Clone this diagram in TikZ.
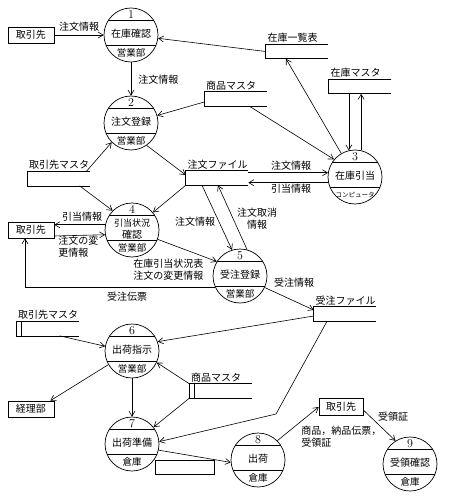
\documentclass[tikz,border=0pt]{standalone}
\usepackage{fontspec}
\newfontfamily\jp{Noto Sans CJK JP}
\usetikzlibrary{arrows.meta}

\tikzset{
  bubble/.style={draw, circle, minimum size=54pt, inner sep=0pt, line width=0.7pt,
    path picture={
      \draw ([yshift=15pt]path picture bounding box.west) -- ([yshift=15pt]path picture bounding box.east);
      \draw ([yshift=-10pt]path picture bounding box.west) -- ([yshift=-10pt]path picture bounding box.east);
    }},
  entity/.style={draw, minimum width=46pt, minimum height=16pt, inner sep=1pt, font=\jp},
  store/.style={minimum width=62pt, minimum height=14pt, inner sep=0pt},
  storelabel/.style={anchor=south west, inner sep=1.5pt, font=\jp},
  lbl/.style={font=\jp, inner sep=1pt},
}

\begin{document}
\begin{tikzpicture}[x=1pt,y=-1pt,line width=0.6pt,>={Straight Barb[length=5pt,width=6pt]}]
  \useasboundingbox (0,0) rectangle (448,497);
  % Procesos
  \foreach \n/\x/\y/\main/\dept in {
      1/131/35/在庫確認/営業部,
      2/131/123/注文登録/営業部,
      3/355/177/在庫引当/{\fontsize{6.5}{7}\selectfont コンピュータ},
      4/132/230/{\fontsize{9}{10}\selectfont 引当状況\\確認}/営業部,
      5/240/276/受注登録/営業部,
      6/132/351/出荷指示/営業部,
      7/132/444/出荷準備/倉庫,
      8/258/460/出荷/倉庫,
      9/410/464/受領確認/倉庫} {
    \node[bubble] (b\n) at (\x,\y) {};
    \node[inner sep=0pt, font=\fontsize{12}{12}\selectfont] (n\n) at ([yshift=20.5pt]b\n.center) {\n};
    \node[lbl, align=center] (m\n) at ([yshift=1pt]b\n.center) {\main};
    \node[lbl, font=\jp\fontsize{9.5}{10}\selectfont] (d\n) at ([yshift=-18pt]b\n.center) {\dept};
  }
  % Entidades externas
  \node[entity] (tori1) at (31,35) {取引先};
  \node[entity] (tori2) at (31,230) {取引先};
  \node[entity] (keiri) at (31,409) {経理部};
  \node[entity, minimum width=44pt, minimum height=17pt] (tori3) at (341,407) {取引先};
  % Almacenes de datos
  \node[store, label={[storelabel]north west:在庫一覧表}] (zlist) at (297,51.5) {};
  \node[store, label={[storelabel]north west:在庫マスタ}] (zmaster) at (360,86.5) {};
  \node[store, label={[storelabel]north west:商品マスタ}] (shohin1) at (235.5,99) {};
  \node[store, label={[storelabel]north west:取引先マスタ}] (tmaster1) at (58.5,178.5) {};
  \node[store, label={[storelabel]north west:注文ファイル}] (chumon) at (217,178) {};
  \node[store, label={[storelabel]north west:受注ファイル}] (juchu) at (345,314) {};
  \node[store, label={[storelabel]north west:取引先マスタ}] (tmaster2) at (47.5,328.5) {};
  \node[store, label={[storelabel]north west:商品マスタ}] (shohin2) at (220.5,391) {};
  \foreach \s in {zlist,zmaster,shohin1,tmaster1,chumon,juchu,tmaster2,shohin2}
    \draw (\s.north east) -- (\s.north west) -- (\s.south west) -- (\s.south east);
  \foreach \s in {tmaster2,shohin2}
    \draw ([xshift=5pt]\s.north west) -- ([xshift=5pt]\s.south west);
  % Recuadro negro
  \node[draw, line width=1.6pt, minimum width=59pt, minimum height=14pt, inner sep=0pt] (blank) at (185,467.5) {};
  % Flujos superiores
  \draw[->] (tori1) -- (b1);
  \node[lbl] (l1) at (79,27) {注文情報};
  \draw[->] (zlist.west) -- (b1);
  \draw[->] (b3) -- ([xshift=-11pt]zlist.south);
  \draw[->] (zmaster.south -| b3.103) -- (b3.103);
  \draw[->] (b3.77) -- (b3.77 |- zmaster.south);
  \draw[->] (b1) -- (b2);
  \node[lbl, anchor=west] (l2) at (137,80) {注文情報};
  \draw[->] ([xshift=14pt]shohin1.south) -- (b3.140);
  \draw[->] ([yshift=-3pt]shohin1.west) -- (b2);
  \draw[->] ([xshift=28pt]tmaster1.north) -- (b2.225);
  \draw[->] (b2.305) -- ([yshift=3pt]chumon.west);
  % Flujos centrales
  \draw[->] ([xshift=21pt]tmaster1.south) -- (b4.135);
  \draw[->] (chumon.south west) -- (b4.40);
  \draw[->] (chumon.east |- b3.171) -- (b3.171);
  \draw[->] (b3.192) -- (b3.192 -| chumon.east);
  \node[lbl] (l3) at (291,166) {注文情報};
  \node[lbl] (l4) at (291,189) {引当情報};
  \draw[->] ([xshift=-15pt]chumon.south) -- (b5.107);
  \node[lbl] (l5) at (195,222) {注文情報};
  \draw[->] (b5.75) -- ([xshift=1pt]chumon.south);
  \node[lbl, align=center] (l6) at (257,219) {注文取消\\情報};
  \draw[->] (b4.169) -- (b4.169 -| tori2.east);
  \node[lbl] (l7) at (82,217) {引当情報};
  \draw[->] ([yshift=-6pt]tori2.east) -- (b4.190);
  \node[lbl, align=left, anchor=north west] (l8) at (57,235) {注文の変\\更情報};
  \draw[->] (b4.340) -- (b5.148);
  \node[lbl, align=left, anchor=north west] (l9) at (132,258) {在庫引当状況表\\注文の変更情報};
  \draw[->] (b5.205) -| ([xshift=-6pt]tori2.south);
  \node[lbl] (l10) at (127,297) {受注伝票};
  \draw[->] (b5.335) -- ([yshift=4pt]juchu.west);
  \node[lbl] (l11) at (294,283) {受注情報};
  % Flujos inferiores
  \draw[->] ([yshift=-2pt]juchu.west) -- (b6.20);
  \draw[->] ([xshift=12pt]tmaster2.south) -- (b6.170);
  \draw[->] (b6.210) -- ([xshift=-4pt]keiri.north east);
  \draw[->] (b6) -- (b7);
  \draw[->] (shohin2.north west) -- (b6.335);
  \draw[->] (shohin2.south west) -- (b7.38);
  \coordinate (bend) at (276,414);
  \draw[->] ([xshift=-18pt]juchu.south) -- (bend) -- (b7.5);
  \draw[->] (b7.347) -- (b8.185);
  \draw[->] (b8.45) -- (tori3.west);
  \node[lbl, align=left, anchor=north west] (l12) at (300,425) {商品，納品伝票，\\受領証};
  \draw[->] ([yshift=-3pt]tori3.east) -- (b9.122);
  \node[lbl] (l13) at (393,417) {受領証};
\end{tikzpicture}
\end{document}
